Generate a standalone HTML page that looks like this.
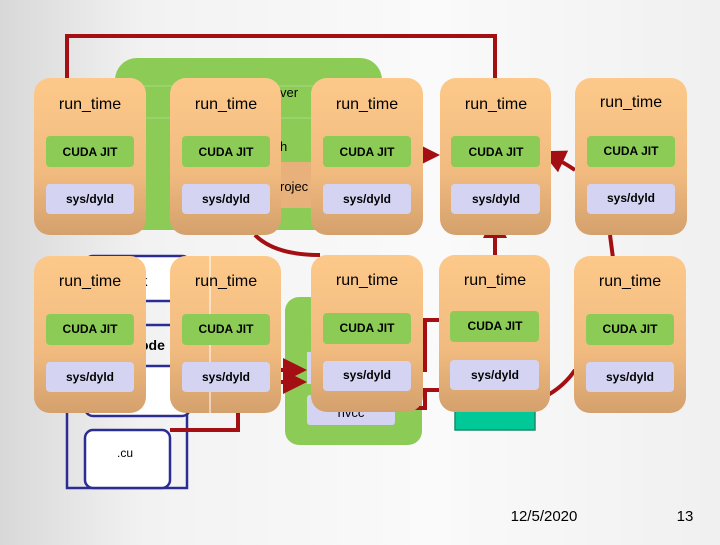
<!DOCTYPE html>
<html><head><style>
html,body{margin:0;padding:0;}
body{width:720px;height:540px;overflow:hidden;background:linear-gradient(90deg,#d8d8d8 0%,#f2f2f2 20%,#fafafa 60%,#f0f0f0 100%);}
text{font-family:"Liberation Sans",sans-serif;}
.b{font-weight:bold;font-size:12px;}
.t{font-size:16px;}
</style></head><body>
<svg width="720" height="540" viewBox="0 0 720 540" xmlns="http://www.w3.org/2000/svg">
<defs>
<linearGradient id="cg" x1="0" y1="0" x2="0" y2="1">
<stop offset="0" stop-color="#fdc98a"/><stop offset="0.6" stop-color="#f1bb80"/><stop offset="1" stop-color="#d4a06c"/>
</linearGradient>
<marker id="ah" markerWidth="6" markerHeight="6" refX="5" refY="3" orient="auto" markerUnits="strokeWidth"><path d="M0,0 L6,3 L0,6 Z" fill="#a30f12"/></marker>
</defs>
<polyline points="67,80 67,36 495,36 495,78" fill="none" stroke="#a30f12" stroke-width="4"/>
<rect x="115" y="58" width="267" height="172" rx="22" fill="#8ccc56"/>
<line x1="130" y1="86" x2="370" y2="86" stroke="#a8d886" stroke-width="1"/>
<line x1="130" y1="118" x2="370" y2="118" stroke="#a8d886" stroke-width="1"/>
<rect x="280" y="162" width="32" height="46" fill="#e8b07a"/>
<text x="280" y="97" font-size="13">ver</text>
<text x="280" y="151" font-size="13">h</text>
<text x="280" y="191" font-size="13">rojec</text>
<path d="M255,235 Q275,255 320,255" fill="none" stroke="#a30f12" stroke-width="4"/>
<rect x="67" y="325" width="120" height="163" fill="none" stroke="#2b2d92" stroke-width="2.5"/>
<rect x="85" y="256" width="105" height="45" rx="8" fill="#fff" stroke="#2b2d92" stroke-width="2.5"/>
<rect x="85" y="366" width="105" height="50" rx="8" fill="#fff" stroke="#2b2d92" stroke-width="2.5"/>
<rect x="85" y="430" width="85" height="58" rx="8" fill="#fff" stroke="#2b2d92" stroke-width="2.5"/>
<text x="117" y="457" font-size="12">.cu</text>
<text x="140" y="286" font-size="15">k</text>
<text x="140" y="350" font-size="14" font-weight="bold">ode</text>
<rect x="285" y="297" width="137" height="148" rx="14" fill="#8ccc56"/>
<rect x="307" y="395" width="88" height="30" rx="3" fill="#d4d4f2"/>
<text x="351" y="417" font-size="13" text-anchor="middle">nvcc</text>
<rect x="307" y="352" width="20" height="32" fill="#d4d4f2"/>
<rect x="455" y="390" width="80" height="40" fill="#00c896" stroke="#1a8c6c" stroke-width="1.5"/>
<polyline points="170,430 238,430 238,382 303,382" fill="none" stroke="#a30f12" stroke-width="4" marker-end="url(#ah)"/>
<line x1="280" y1="370" x2="303" y2="370" stroke="#a30f12" stroke-width="4" marker-end="url(#ah)"/>
<polyline points="395,408 425,408 425,390 445,390" fill="none" stroke="#a30f12" stroke-width="4"/>
<polyline points="422,370 425,370 425,320 440,320" fill="none" stroke="#a30f12" stroke-width="4"/>
<path d="M548,395 Q565,385 575,370" fill="none" stroke="#a30f12" stroke-width="4"/>
<line x1="495" y1="255" x2="495" y2="218" stroke="#a30f12" stroke-width="4" marker-end="url(#ah)"/>
<line x1="610" y1="235" x2="613" y2="258" stroke="#a30f12" stroke-width="4"/>
<path d="M575,170 Q560,160 545,153" fill="none" stroke="#a30f12" stroke-width="4" marker-end="url(#ah)"/>
<line x1="420" y1="155" x2="436" y2="155" stroke="#a30f12" stroke-width="4" marker-end="url(#ah)"/>
<g>
<g transform="translate(34,78)"><rect width="112" height="157" rx="16" fill="url(#cg)"/><text class="t" x="56" y="31" text-anchor="middle">run_time</text><rect x="12" y="58" width="88" height="31" rx="4" fill="#8ccc56"/><text class="b" x="56" y="78" text-anchor="middle">CUDA JIT</text><rect x="12" y="106" width="88" height="30" rx="4" fill="#d4d4f2"/><text class="b" x="56" y="125" text-anchor="middle">sys/dyld</text></g>
<g transform="translate(170,78)"><rect width="111" height="157" rx="16" fill="url(#cg)"/><text class="t" x="56" y="31" text-anchor="middle">run_time</text><rect x="12" y="58" width="88" height="31" rx="4" fill="#8ccc56"/><text class="b" x="56" y="78" text-anchor="middle">CUDA JIT</text><rect x="12" y="106" width="88" height="30" rx="4" fill="#d4d4f2"/><text class="b" x="56" y="125" text-anchor="middle">sys/dyld</text></g>
<g transform="translate(311,78)"><rect width="112" height="157" rx="16" fill="url(#cg)"/><text class="t" x="56" y="31" text-anchor="middle">run_time</text><rect x="12" y="58" width="88" height="31" rx="4" fill="#8ccc56"/><text class="b" x="56" y="78" text-anchor="middle">CUDA JIT</text><rect x="12" y="106" width="88" height="30" rx="4" fill="#d4d4f2"/><text class="b" x="56" y="125" text-anchor="middle">sys/dyld</text></g>
<g transform="translate(440,78)"><rect width="111" height="157" rx="16" fill="url(#cg)"/><text class="t" x="56" y="31" text-anchor="middle">run_time</text><rect x="11" y="58" width="89" height="31" rx="4" fill="#8ccc56"/><text class="b" x="56" y="78" text-anchor="middle">CUDA JIT</text><rect x="11" y="106" width="89" height="30" rx="4" fill="#d4d4f2"/><text class="b" x="56" y="125" text-anchor="middle">sys/dyld</text></g>
<g transform="translate(575,78)"><rect width="112" height="157" rx="16" fill="url(#cg)"/><text class="t" x="56" y="29" text-anchor="middle">run_time</text><rect x="12" y="58" width="88" height="31" rx="4" fill="#8ccc56"/><text class="b" x="56" y="77" text-anchor="middle">CUDA JIT</text><rect x="12" y="106" width="88" height="30" rx="4" fill="#d4d4f2"/><text class="b" x="56" y="124" text-anchor="middle">sys/dyld</text></g>
<g transform="translate(34,256)"><rect width="112" height="157" rx="16" fill="url(#cg)"/><text class="t" x="56" y="30" text-anchor="middle">run_time</text><rect x="12" y="58" width="88" height="31" rx="4" fill="#8ccc56"/><text class="b" x="56" y="77" text-anchor="middle">CUDA JIT</text><rect x="12" y="106" width="88" height="30" rx="4" fill="#d4d4f2"/><text class="b" x="56" y="125" text-anchor="middle">sys/dyld</text></g>
<g transform="translate(170,256)"><rect width="111" height="157" rx="16" fill="url(#cg)"/><line x1="40" y1="0" x2="40" y2="157" stroke="#fff" stroke-width="1"/><text class="t" x="56" y="30" text-anchor="middle">run_time</text><rect x="12" y="58" width="88" height="31" rx="4" fill="#8ccc56"/><text class="b" x="56" y="77" text-anchor="middle">CUDA JIT</text><rect x="12" y="106" width="88" height="30" rx="4" fill="#d4d4f2"/><text class="b" x="56" y="125" text-anchor="middle">sys/dyld</text></g>
<g transform="translate(311,255)"><rect width="112" height="157" rx="16" fill="url(#cg)"/><text class="t" x="56" y="30" text-anchor="middle">run_time</text><rect x="12" y="58" width="88" height="31" rx="4" fill="#8ccc56"/><text class="b" x="56" y="77" text-anchor="middle">CUDA JIT</text><rect x="12" y="106" width="88" height="30" rx="4" fill="#d4d4f2"/><text class="b" x="56" y="124" text-anchor="middle">sys/dyld</text></g>
<g transform="translate(439,255)"><rect width="111" height="157" rx="16" fill="url(#cg)"/><text class="t" x="56" y="30" text-anchor="middle">run_time</text><rect x="11" y="56" width="89" height="31" rx="4" fill="#8ccc56"/><text class="b" x="56" y="75" text-anchor="middle">CUDA JIT</text><rect x="11" y="105" width="89" height="30" rx="4" fill="#d4d4f2"/><text class="b" x="56" y="124" text-anchor="middle">sys/dyld</text></g>
<g transform="translate(574,256)"><rect width="112" height="157" rx="16" fill="url(#cg)"/><text class="t" x="56" y="30" text-anchor="middle">run_time</text><rect x="12" y="58" width="88" height="31" rx="4" fill="#8ccc56"/><text class="b" x="56" y="77" text-anchor="middle">CUDA JIT</text><rect x="12" y="106" width="88" height="30" rx="4" fill="#d4d4f2"/><text class="b" x="56" y="125" text-anchor="middle">sys/dyld</text></g>
</g>
<text x="544" y="521" font-size="15" text-anchor="middle">12/5/2020</text>
<text x="685" y="521" font-size="15" text-anchor="middle">13</text>
</svg>
</body></html>
